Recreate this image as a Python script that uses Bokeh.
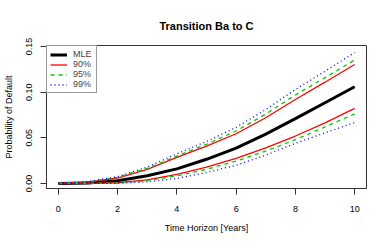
from bokeh.plotting import figure
from bokeh.models import Range1d, FixedTicker, NumeralTickFormatter, Legend, LegendItem
from bokeh.embed import file_html
from bokeh.resources import INLINE

years = [0, 1, 2, 3, 4, 5, 6, 7, 8, 9, 10]
mle   = [0, 0.0006, 0.0030, 0.0085, 0.0160, 0.0265, 0.0387, 0.0540, 0.0710, 0.0885, 0.1060]
up90  = [0, 0.0016, 0.0060, 0.0155, 0.0285, 0.0410, 0.0545, 0.0720, 0.0920, 0.1110, 0.1304]
lo90  = [0, 0.0001, 0.0008, 0.0040, 0.0100, 0.0180, 0.0275, 0.0390, 0.0520, 0.0665, 0.0823]
up95  = [0, 0.0019, 0.0068, 0.0165, 0.0300, 0.0430, 0.0575, 0.0760, 0.0970, 0.1160, 0.1353]
lo95  = [0, 0.0001, 0.0005, 0.0031, 0.0083, 0.0155, 0.0245, 0.0355, 0.0480, 0.0620, 0.0763]
up99  = [0, 0.0022, 0.0075, 0.0180, 0.0325, 0.0460, 0.0615, 0.0810, 0.1030, 0.1230, 0.1435]
lo99  = [0, 0.0000, 0.0002, 0.0018, 0.0055, 0.0120, 0.0200, 0.0310, 0.0440, 0.0555, 0.0668]

x_ticks = [0, 2, 4, 6, 8, 10]
y_ticks = [0.0, 0.05, 0.10, 0.15]

FONT = "Liberation Sans"
GREEN = "#00CD00"

p = figure(width=374, height=235, output_backend="svg", toolbar_location=None,
           x_range=Range1d(-0.4, 10.4), y_range=Range1d(-0.0055, 0.1512),
           min_border_left=46, min_border_right=8, min_border_top=45, min_border_bottom=42,
           title="Transition Ba to C")

p.title.align = "center"
p.title.text_font = FONT
p.title.text_font_size = "11px"
p.title.text_font_style = "bold"
p.title.text_color = "black"
p.title.standoff = 28

p.xgrid.visible = False
p.ygrid.visible = False
p.outline_line_color = "#333333"
p.outline_line_width = 1
p.background_fill_color = "white"
p.border_fill_color = "white"

for ax in (p.xaxis[0], p.yaxis[0]):
    ax.axis_line_color = "#333333"
    ax.major_tick_line_color = "#333333"
    ax.major_tick_out = 6
    ax.major_tick_in = 0
    ax.minor_tick_line_color = None
    ax.major_label_text_font = FONT
    ax.major_label_text_font_size = "9px"
    ax.major_label_text_color = "black"
    ax.axis_label_text_font = FONT
    ax.axis_label_text_font_size = "9px"
    ax.axis_label_text_font_style = "normal"
    ax.axis_label_text_color = "black"

p.xaxis.ticker = FixedTicker(ticks=x_ticks)
p.xaxis.axis_label = "Time Horizon [Years]"
p.xaxis.major_label_standoff = 11
p.xaxis.axis_label_standoff = 8

p.yaxis.ticker = FixedTicker(ticks=y_ticks)
p.yaxis.formatter = NumeralTickFormatter(format="0.00")
p.yaxis.major_label_orientation = "vertical"
p.yaxis.axis_label = "Probability of Default"
p.yaxis.major_label_standoff = 8
p.yaxis.axis_label_standoff = 10

r_mle = p.line(years, mle, line_color="black", line_width=3)
r_u90 = p.line(years, up90, line_color="red", line_width=1.3)
r_l90 = p.line(years, lo90, line_color="red", line_width=1.3)
r_u95 = p.line(years, up95, line_color=GREEN, line_width=1.3, line_dash="4 4")
r_l95 = p.line(years, lo95, line_color=GREEN, line_width=1.3, line_dash="4 4")
r_u99 = p.line(years, up99, line_color="blue", line_width=1.3, line_dash="1 3")
r_l99 = p.line(years, lo99, line_color="blue", line_width=1.3, line_dash="1 3")

legend = Legend(items=[
    LegendItem(label="MLE", renderers=[r_mle]),
    LegendItem(label="90%", renderers=[r_u90]),
    LegendItem(label="95%", renderers=[r_u95]),
    LegendItem(label="99%", renderers=[r_u99]),
], location="top_left")
legend.margin = 0
legend.padding = 3
legend.spacing = -4
legend.label_text_font = FONT
legend.label_text_font_size = "9px"
legend.label_height = 7
legend.glyph_height = 7
legend.glyph_width = 17
legend.label_standoff = 6
legend.border_line_color = "#333333"
legend.border_line_width = 1
legend.background_fill_alpha = 1
p.add_layout(legend)

open("out.html", "w").write(file_html(p, INLINE))
